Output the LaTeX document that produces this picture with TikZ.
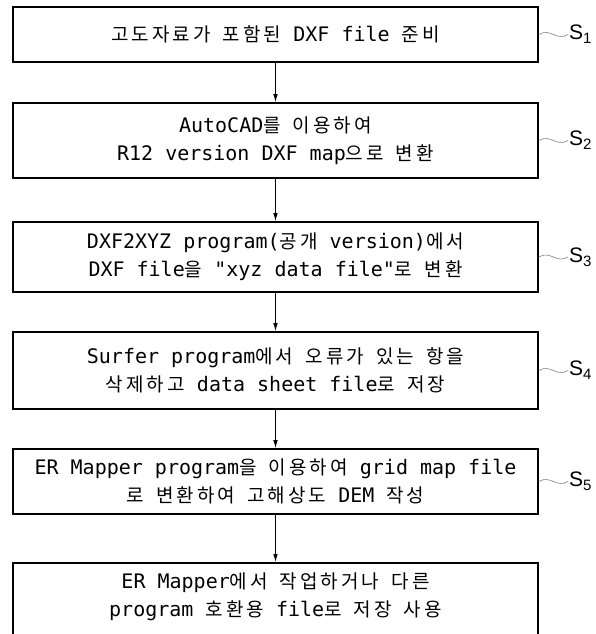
\documentclass[tikz,border=0pt]{standalone}
\usepackage{fontspec}
\setmainfont[Ligatures=TeXOff]{DejaVu Sans Mono}
\newfontfamily\kor[Scale=0.95,LetterSpace=16]{Noto Sans CJK KR}
\newfontfamily\lbl{Liberation Sans}
\newcommand{\K}[1]{{\kor #1}}
\usetikzlibrary{arrows.meta}
\tikzset{
  box/.style={draw, line width=1.6pt, minimum width=525pt, minimum height=#1,
    align=center, inner sep=0pt, font=\fontsize{20}{28}\selectfont},
  box/.default=60pt,
  flow/.style={-{Latex[length=8pt,width=4.5pt]}, line width=0.8pt},
  wave/.style={gray, line width=0.6pt},
  stepno/.style={anchor=west, inner sep=1pt, font=\lbl\fontsize{21}{24}\selectfont}
}
\newcommand{\stepname}[1]{S\raisebox{-4pt}{\fontsize{15}{15}\selectfont #1}}

\begin{document}
\begin{tikzpicture}[x=1pt,y=-1pt]
  \useasboundingbox (0,0) rectangle (595,634);
  \clip (0,0) rectangle (595,634);

  % steps
  \node[box=55pt] (b1) at (275.5, 34.5) {\K{고도자료가} \K{포함된} DXF file \K{준비}};
  \node[box=75pt] (b2) at (275.5, 140.5)
    {AutoCAD\K{를} \K{이용하여}\\R12 version DXF map\K{으로} \K{변환}};
  \node[box=70pt] (b3) at (275.5, 257)
    {DXF2XYZ program(\K{공개} version)\K{에서}\\DXF file\K{을} "xyz data file"\K{로} \K{변환}};
  \node[box=77pt] (b4) at (275.5, 370.5)
    {Surfer program\K{에서} \K{오류가} \K{있는} \K{항을}\\\K{삭제하고} data sheet file\K{로} \K{저장}};
  \node[box=65pt] (b5) at (275.5, 481.5)
    {ER Mapper program\K{을} \K{이용하여} grid map file\\\K{로} \K{변환하여} \K{고해상도} DEM \K{작성}};
  \node[box=20pt, anchor=north, inner ysep=10pt, text depth=90pt] (b6) at (275.5, 562)
    {ER Mapper\K{에서} \K{작업하거나} \K{다른}\\program \K{호환용} file\K{로} \K{저장} \K{사용}};

  \draw[flow] (b1) -- (b2);
  \draw[flow] (b2) -- (b3);
  \draw[flow] (b3) -- (b4);
  \draw[flow] (b4) -- (b5);
  \draw[flow] (b5) -- (b6);

  % step labels
  \node[stepno] (s1) at (568, 34.5) {\stepname{1}};
  \node[stepno] (s2) at (568, 140.5) {\stepname{2}};
  \node[stepno] (s3) at (568, 257) {\stepname{3}};
  \node[stepno] (s4) at (568, 370.5) {\stepname{4}};
  \node[stepno] (s5) at (568, 481.5) {\stepname{5}};

  \draw[wave] (b1.east) .. controls +(12,-7) and +(-12,7) .. (s1.west);
  \draw[wave] (b2.east) .. controls +(12,-7) and +(-12,7) .. (s2.west);
  \draw[wave] (b3.east) .. controls +(12,-7) and +(-12,7) .. (s3.west);
  \draw[wave] (b4.east) .. controls +(12,-7) and +(-12,7) .. (s4.west);
  \draw[wave] (b5.east) .. controls +(12,-7) and +(-12,7) .. (s5.west);
\end{tikzpicture}
\end{document}
